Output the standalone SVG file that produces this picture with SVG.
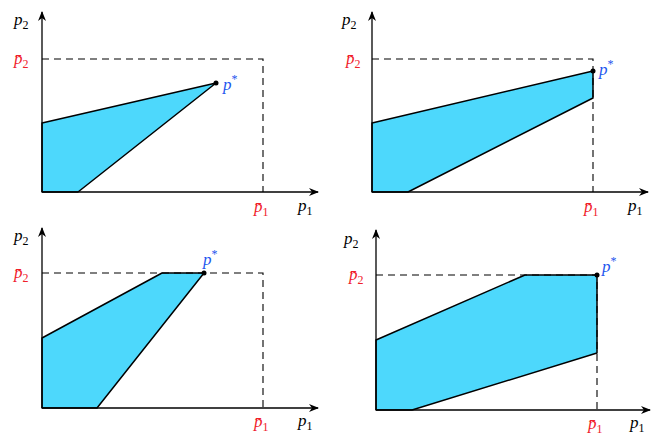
<svg xmlns="http://www.w3.org/2000/svg" width="664" height="447" viewBox="0 0 664 447">
<style>
.ax{stroke:#000;stroke-width:1.3;fill:none}
.dash{stroke:#000;stroke-width:1.1;fill:none;stroke-dasharray:7,5}
.reg{fill:#4dd8fc;stroke:#000;stroke-width:1.5;stroke-linejoin:round}
text{font-family:"Liberation Serif",serif;font-size:17px;font-style:italic}
.r{fill:#f0202a}
.b{fill:#2255ee}
.s{font-size:12px;font-style:normal}
</style>
<defs><marker id="ar" markerWidth="10" markerHeight="8" refX="9" refY="4" orient="auto" markerUnits="userSpaceOnUse"><path d="M0,0 L10,4 L0,8 L3,4 Z" fill="#000"/></marker></defs>
<g id="panel1">
<polygon class="reg" points="42,192 42,123 216,83 78,192"/>
<path class="dash" d="M42,59 H263 V192"/>
<g class="connectors"><path class="ax" d="M42,192 V12" marker-end="url(#ar)"/><path class="ax" d="M42,192 H318" marker-end="url(#ar)"/></g>
<circle cx="216" cy="83" r="2.5"/>
<text x="223" y="90" class="b">p<tspan class="s" dy="-7">*</tspan></text>
<text x="14" y="64" class="r" font-style="normal">p̄<tspan class="s" dy="4">2</tspan></text>
<text x="254" y="212" class="r">p̄<tspan class="s" dy="4">1</tspan></text>
<text x="298" y="211">p<tspan class="s" dy="4">1</tspan></text>
<text x="14" y="25">p<tspan class="s" dy="4">2</tspan></text>
</g>
<g id="panel2">
<polygon class="reg" points="372,192 372,123 593,71 593,98 408,192"/>
<path class="dash" d="M372,59 H593 V192"/>
<g class="connectors"><path class="ax" d="M372,192 V12" marker-end="url(#ar)"/><path class="ax" d="M372,192 H648" marker-end="url(#ar)"/></g>
<circle cx="593" cy="71" r="2.5"/>
<text x="599" y="75" class="b">p<tspan class="s" dy="-7">*</tspan></text>
<text x="346" y="64" class="r">p̄<tspan class="s" dy="4">2</tspan></text>
<text x="584" y="212" class="r">p̄<tspan class="s" dy="4">1</tspan></text>
<text x="628" y="211">p<tspan class="s" dy="4">1</tspan></text>
<text x="342" y="25">p<tspan class="s" dy="4">2</tspan></text>
</g>
<g id="panel3">
<polygon class="reg" points="42,408 42,338 162,273 204,273 97,408"/>
<path class="dash" d="M42,273 H263 V408"/>
<g class="connectors"><path class="ax" d="M42,408 V228" marker-end="url(#ar)"/><path class="ax" d="M42,408 H318" marker-end="url(#ar)"/></g>
<circle cx="204" cy="273" r="2.5"/>
<text x="203" y="265" class="b">p<tspan class="s" dy="-7">*</tspan></text>
<text x="14" y="278" class="r">p̄<tspan class="s" dy="4">2</tspan></text>
<text x="254" y="427" class="r">p̄<tspan class="s" dy="4">1</tspan></text>
<text x="298" y="426">p<tspan class="s" dy="4">1</tspan></text>
<text x="14" y="241">p<tspan class="s" dy="4">2</tspan></text>
</g>
<g id="panel4">
<polygon class="reg" points="376,410 376,340 525,275 597,275 597,353 412,410"/>
<path class="dash" d="M376,275 H597 V410"/>
<g class="connectors"><path class="ax" d="M376,410 V230" marker-end="url(#ar)"/><path class="ax" d="M376,410 H650" marker-end="url(#ar)"/></g>
<circle cx="597" cy="275" r="2.5"/>
<text x="602" y="272" class="b">p<tspan class="s" dy="-7">*</tspan></text>
<text x="349" y="280" class="r">p̄<tspan class="s" dy="4">2</tspan></text>
<text x="588" y="429" class="r">p̄<tspan class="s" dy="4">1</tspan></text>
<text x="630" y="428">p<tspan class="s" dy="4">1</tspan></text>
<text x="344" y="244">p<tspan class="s" dy="4">2</tspan></text>
</g>
</svg>
